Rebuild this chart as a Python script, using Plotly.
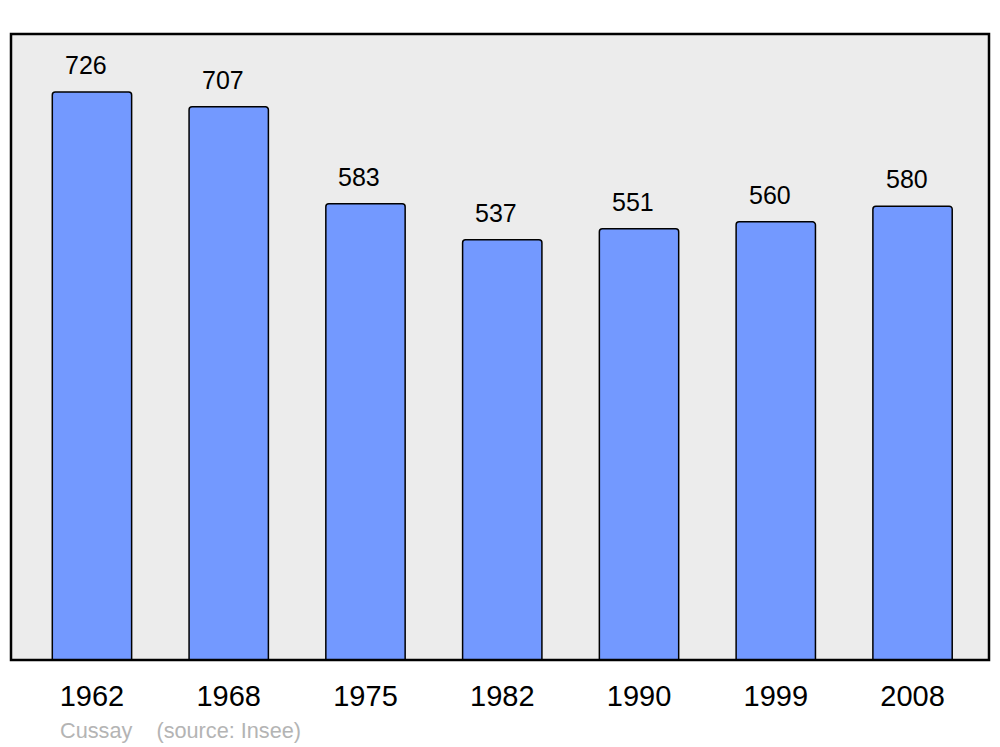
import plotly.graph_objects as go

years = ["1962", "1968", "1975", "1982", "1990", "1999", "2008"]
population = [726, 707, 583, 537, 551, 560, 580]
commune = "Cussay"
source = "(source: Insee)"

xs = list(range(len(years)))

fig = go.Figure()
fig.add_trace(go.Bar(
    x=xs, y=population, width=0.58,
    marker=dict(color="#7399ff", line=dict(color="black", width=1.5), cornerradius=3),
    hoverinfo="skip",
))

for x, v in zip(xs, population):
    fig.add_annotation(x=x, y=v, text=str(v), showarrow=False, xshift=-6, yshift=27,
                       yanchor="middle", font=dict(family="Liberation Sans", size=25, color="black"))

fig.add_annotation(xref="paper", yref="paper", x=(58 - 11) / 978, y=-(730 - 660) / 626,
                   xanchor="left", yanchor="middle", showarrow=False,
                   text=commune + "&nbsp;&nbsp;&nbsp;&nbsp;" + source,
                   font=dict(family="Liberation Sans", size=21.7, color="#b4b4b4"))

fig.add_shape(type="rect", xref="paper", yref="paper", x0=0, y0=0, x1=1, y1=1,
              line=dict(color="black", width=2.5), layer="above")

fig.update_layout(
    width=1000, height=747,
    margin=dict(l=11, r=11, t=34, b=87),
    paper_bgcolor="white", plot_bgcolor="#ececec",
    showlegend=False,
    xaxis=dict(range=[-0.592, 6.559], tickvals=xs, ticktext=years, showgrid=False,
               zeroline=False, ticks="", ticklabelstandoff=16,
               tickfont=dict(family="Liberation Sans", size=29, color="black")),
    yaxis=dict(range=[0, 800], showgrid=False, zeroline=False, showticklabels=False, ticks=""),
)

fig.write_html("out.html", config={"displayModeBar": False},
               post_script="document.body.style.margin='0';document.body.style.overflow='hidden';")
